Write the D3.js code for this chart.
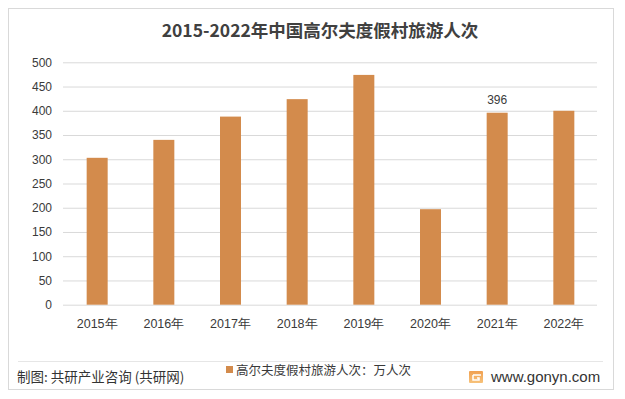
<!DOCTYPE html>
<html><head><meta charset="utf-8">
<script src="https://cdn.jsdelivr.net/npm/d3@7"></script>
<style>
body{margin:0;background:#fff;}
svg{display:block;font-family:"Noto Sans CJK SC","Microsoft YaHei",sans-serif;}
</style></head>
<body><svg id="c" width="625" height="399"></svg>
<script>
const categories = ["2015年","2016年","2017年","2018年","2019年","2020年","2021年","2022年"];
const values = [303, 340, 388, 424, 474, 197, 396, 400];
const yTicks = [0,50,100,150,200,250,300,350,400,450,500];
const labelled = ["2021年"];
const title = "2015-2022年中国高尔夫度假村旅游人次";
const legendLabel = "高尔夫度假村旅游人次：万人次";
const source = "制图: 共研产业咨询 (共研网)";
const site = "www.gonyn.com";

const svg = d3.select("#c");
const barColor = "#D38B4C";
const textColor = "#3a3a3a";

svg.append("rect").attr("x",8.5).attr("y",8.5).attr("width",605).attr("height",381)
  .attr("fill","#fff").attr("stroke","#d9d9d9");

svg.append("text").attr("x",320).attr("y",37).attr("text-anchor","middle")
  .attr("font-size",17.5).attr("font-weight","bold").attr("fill","#404040").text(title);

const x = d3.scaleBand().domain(categories).range([64,597]).paddingInner(0.685).paddingOuter(0.34);
const y = d3.scaleLinear().domain([0,500]).range([304.7,62.3]);

const gy = svg.append("g").attr("transform","translate(63,0)")
  .call(d3.axisLeft(y).tickValues(yTicks).tickSize(-534).tickPadding(11).tickFormat(d3.format("d")));
gy.select(".domain").remove();
gy.selectAll(".tick line").attr("stroke","#d9d9d9").attr("stroke-width",1);
gy.selectAll(".tick text").attr("fill",textColor).attr("font-size",12)
  .attr("font-family","'Liberation Sans',Arial,sans-serif");

const gx = svg.append("g").attr("transform","translate(0,304.7)")
  .call(d3.axisBottom(x).tickSize(0).tickPadding(14));
gx.select(".domain").remove();
gx.selectAll(".tick text").attr("fill",textColor).attr("font-size",12.5);

svg.append("g").selectAll("rect").data(categories).join("rect")
  .attr("x",d=>x(d)).attr("width",x.bandwidth())
  .attr("y",(d,i)=>y(values[i])).attr("height",(d,i)=>y(0)-y(values[i]))
  .attr("fill",barColor);

svg.append("g").selectAll("text").data(categories.filter(c=>labelled.includes(c))).join("text")
  .attr("x",d=>x(d)+x.bandwidth()/2).attr("y",d=>y(values[categories.indexOf(d)])-9)
  .attr("text-anchor","middle").attr("font-size",12).attr("fill",textColor)
  .attr("font-family","'Liberation Sans',Arial,sans-serif")
  .text(d=>values[categories.indexOf(d)]);

svg.append("line").attr("x1",18).attr("x2",603).attr("y1",361.5).attr("y2",361.5)
  .attr("stroke","#e6e6e6");

svg.append("rect").attr("x",226).attr("y",366).attr("width",7).attr("height",7).attr("fill",barColor);
svg.append("text").attr("x",236).attr("y",374.5).attr("font-size",12.5).attr("fill",textColor).text(legendLabel);

svg.append("text").attr("x",17).attr("y",382).attr("font-size",13.5).attr("fill","#333").text(source);

const defs = svg.append("defs");
const lg = defs.append("linearGradient").attr("id","lg").attr("x1","0").attr("y1","0").attr("x2","0").attr("y2","1");
lg.append("stop").attr("offset","0").attr("stop-color","#f0a050");
lg.append("stop").attr("offset","1").attr("stop-color","#f7c27a");
svg.append("rect").attr("x",469).attr("y",371).attr("width",14).attr("height",12).attr("rx",1).attr("fill","url(#lg)");
svg.append("path").attr("d","M473 375 H481 M473 375 V380 H479 V378 H477").attr("stroke","#fff").attr("stroke-width",1.5).attr("fill","none");
svg.append("text").attr("x",491).attr("y",382).attr("font-size",15).attr("fill","#333")
  .attr("font-family","'Liberation Sans',Arial,sans-serif").text(site);
</script></body></html>
